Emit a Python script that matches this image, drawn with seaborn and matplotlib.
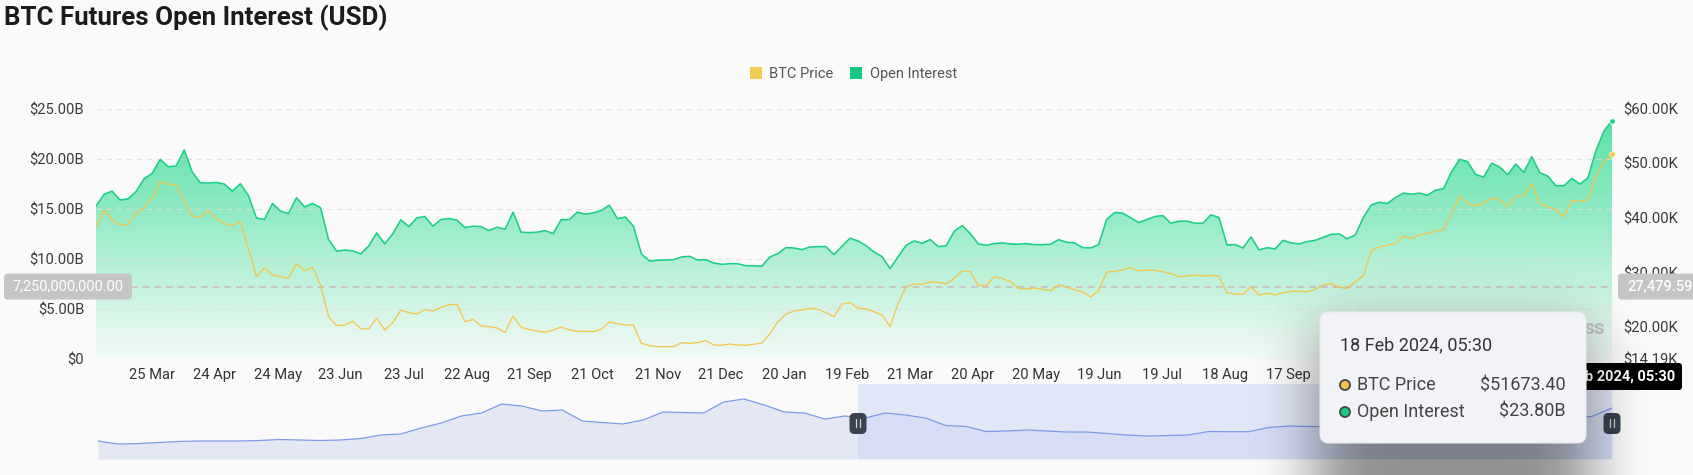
import numpy as np
import pandas as pd
import matplotlib
matplotlib.use("Agg")
import matplotlib.pyplot as plt
import matplotlib.dates as mdates
from matplotlib.patches import FancyBboxPatch, Circle, Patch
import seaborn as sns

# ---------------- data ----------------
START = pd.Timestamp("2022-02-26 12:00")
END = pd.Timestamp("2024-02-18 05:30")
NAV_START = pd.Timestamp("2020-03-01")

open_interest_busd = [
    15.27, 16.43, 16.77, 15.87, 16.0, 16.73, 18.0, 18.53, 19.93, 19.2,
    19.27, 20.87, 18.67, 17.6, 17.57, 17.63, 17.47, 16.77, 17.5, 16.33,
    14.1, 13.93, 15.53, 14.77, 14.53, 16.1, 15.2, 15.53, 15.1, 11.93,
    10.77, 10.9, 10.8, 10.5, 11.3, 12.6, 11.5, 12.5, 13.9, 13.23,
    14.1, 14.23, 13.27, 13.93, 14.03, 13.87, 13.13, 13.27, 13.23, 12.83,
    13.17, 12.97, 14.67, 12.67, 12.63, 12.67, 12.83, 12.53, 13.93, 13.93,
    14.67, 14.47, 14.6, 14.83, 15.37, 14.03, 14.17, 13.27, 10.5, 9.8,
    9.87, 9.9, 9.93, 10.2, 10.27, 9.9, 9.93, 9.6, 9.47, 9.53,
    9.53, 9.33, 9.33, 9.27, 10.2, 10.53, 11.13, 11.1, 10.93, 11.2,
    11.23, 11.23, 10.43, 11.27, 12.07, 11.8, 11.33, 10.7,
    10.23, 9.03, 10.23, 11.37, 11.8, 11.57, 11.93, 11.23, 11.33, 12.77,
    13.33, 12.53, 11.5, 11.37, 11.53, 11.6, 11.5, 11.47, 11.53, 11.43,
    11.43, 11.47, 11.93, 11.67, 11.6, 11.13, 11.1, 11.43, 13.93, 14.63,
    14.57, 14.1, 13.63, 13.93, 14.23, 14.33, 13.57, 13.77, 13.77, 13.57,
    13.57, 14.4, 14.13, 11.4, 11.43, 11.1, 12.2, 10.9, 11.13,
    11.0, 11.86, 11.6, 11.5, 11.73, 11.86, 12.16, 12.46, 12.5, 12.0,
    12.4, 14.13, 15.4, 15.66, 15.53, 16.13, 16.56, 16.46, 16.56, 16.36,
    16.86, 17.0, 18.7, 19.93, 19.7, 18.43, 18.16, 19.56, 19.16, 18.4,
    19.46, 18.63, 20.2, 18.6, 18.26, 17.3, 17.3, 18.03, 17.46, 18.1,
    20.8, 22.76, 23.80,
]

btc_price_kusd = [
    38.41, 41.46, 39.63, 38.72, 38.78, 40.85, 41.94, 43.65, 46.63, 46.20,
    46.02, 43.04, 40.36, 40.12, 41.34, 39.87, 39.02, 38.60, 39.33, 34.46,
    29.28, 30.87, 29.59, 29.28, 28.98, 31.66, 30.38, 30.99, 27.70, 21.98,
    20.34, 20.46, 21.13, 19.79, 19.73, 21.68, 19.55, 20.89, 23.20, 22.71,
    22.47, 23.26, 23.02, 23.68, 24.17, 24.23, 21.07, 21.49, 20.28, 20.15,
    19.91, 19.12, 22.10, 20.03, 19.61, 19.36, 19.12, 19.55, 20.09, 19.55,
    19.30, 19.30, 19.24, 19.67, 21.01, 20.70, 20.46, 20.46, 17.11, 16.69,
    16.50, 16.50, 16.50, 17.23, 17.11, 17.23, 17.60, 16.81, 16.75, 16.99,
    16.81, 16.75, 16.93, 17.17, 18.82, 21.01, 22.41, 23.02, 23.20, 23.50,
    23.32, 22.71, 21.98, 24.29, 24.54, 23.56, 23.38, 22.89,
    22.29, 20.15, 24.42, 27.46, 27.95, 27.88, 28.31, 28.25, 27.95, 28.98,
    30.32, 30.20, 27.64, 27.70, 29.28, 28.92, 28.37, 27.15, 27.03, 27.21,
    26.97, 26.73, 27.76, 27.40, 26.91, 26.48, 25.57, 26.73, 30.14, 30.26,
    30.50, 30.93, 30.32, 30.50, 30.44, 30.20, 29.83, 29.28, 29.41, 29.59,
    29.41, 29.53, 29.35, 26.36, 26.12, 26.06, 27.46, 25.94, 26.24,
    25.93, 26.36, 26.60, 26.66, 26.48, 26.97, 27.76, 28.00, 27.33, 27.15,
    28.37, 29.46, 34.09, 34.70, 35.06, 35.36, 36.70, 36.28, 36.89, 37.19,
    37.56, 37.92, 40.72, 44.01, 42.67, 42.18, 42.79, 43.64, 43.28, 42.06,
    43.89, 44.19, 46.32, 42.61, 42.00, 41.57, 40.23, 43.22, 43.03, 43.34,
    47.66, 50.28, 51.6734,
]

nav_btc_kusd = [
    8.6, 4.3, 5.0, 6.4, 7.9, 8.6, 8.6, 8.6, 9.3, 10.7,
    10.0, 9.3, 10.0, 12.1, 17.1, 18.6, 27.1, 34.3, 44.3, 48.6,
    61.4, 58.6, 51.4, 52.9, 37.1, 35.0, 32.9, 38.6, 50.0, 49.3,
    48.6, 64.3, 68.6, 60.0, 50.0, 48.6, 40.0, 44.3, 41.4, 48.6,
    45.7, 41.4, 30.7, 29.3, 22.1, 22.9, 24.3, 22.9, 21.4, 21.4,
    19.3, 17.1, 15.7, 16.4, 17.1, 22.1, 21.9, 21.9, 27.9, 30.0,
    29.3, 29.3, 28.6, 30.0, 30.7, 30.0, 30.0, 25.7, 26.4, 27.1,
    32.9, 37.1, 42.9, 42.9, 43.6, 55.7,
]

# visible x tick labels (later ones are hidden behind the tooltip)
x_tick_dates = ["2022-03-25", "2022-04-24", "2022-05-24", "2022-06-23", "2022-07-23",
                "2022-08-22", "2022-09-21", "2022-10-21", "2022-11-21", "2022-12-21",
                "2023-01-20", "2023-02-19", "2023-03-21", "2023-04-20", "2023-05-20",
                "2023-06-19", "2023-07-19", "2023-08-18", "2023-09-17"]
x_tick_labels = ["25 Mar", "24 Apr", "24 May", "23 Jun", "23 Jul", "22 Aug", "21 Sep",
                 "21 Oct", "21 Nov", "21 Dec", "20 Jan", "19 Feb", "21 Mar", "20 Apr",
                 "20 May", "19 Jun", "19 Jul", "18 Aug", "17 Sep"]
oi_ticks = [0, 5, 10, 15, 20, 25]
oi_tick_labels = ["$0", "$5.00B", "$10.00B", "$15.00B", "$20.00B", "$25.00B"]
btc_ticks = [14.19, 20, 30, 40, 50, 60]
btc_tick_labels = ["$14.19K", "$20.00K", "$30.00K", "$40.00K", "$50.00K", "$60.00K"]
series_names = ["BTC Price", "Open Interest"]
crosshair_oi_b = 7.25
crosshair_btc_usd = 27479.59
title = "BTC Futures Open Interest (USD)"
tooltip_date = "18 Feb 2024, 05:30"
axis_date_visible = "b 2024, 05:30"   # part of the x crosshair label not hidden by the tooltip
watermark_visible = "ss"             # visible tail of the watermark

# ---------------- style ----------------
sns.set_theme(style="white")
plt.rcParams["font.family"] = ["Roboto", "DejaVu Sans"]

BG = "#fafafa"
GREEN = "#1ccf89"
YEL = "#f4c54b"
W, H = 1693, 475
TICK_FS = 10.6

dates = pd.date_range(START, END, periods=len(open_interest_busd))
nav_dates = pd.date_range(NAV_START, END, periods=len(nav_btc_kusd))
df = pd.DataFrame({"date": dates, "oi": open_interest_busd, "btc": btc_price_kusd})
nav_df = pd.DataFrame({"date": nav_dates, "btc": nav_btc_kusd})

fig = plt.figure(figsize=(W / 100, H / 100), dpi=100, facecolor=BG)


def fx(x):
    return x / W


def fy(y):
    return 1 - y / H


# ---------------- main axes ----------------
ax = fig.add_axes([fx(96), fy(359.3), (1612 - 96) / W, (359.3 - 108.5) / H])
ax.set_facecolor(BG)
for s in ax.spines.values():
    s.set_visible(False)

x0n, x1n = mdates.date2num(START), mdates.date2num(END)
stops = np.array([0, 5, 10, 15, 25]) / 25
cols = np.array([[241, 250, 246], [212, 245, 230], [176, 240, 212],
                 [143, 234, 195], [84, 225, 163]]) / 255
yy = np.linspace(0, 1, 300)
grad = np.stack([np.interp(yy, stops, cols[:, i]) for i in range(3)], axis=-1)[:, None, :]
im = ax.imshow(grad, extent=[x0n, x1n, 0, 25], origin="lower", aspect="auto",
               zorder=1, interpolation="bilinear")
poly = ax.fill_between(dates, open_interest_busd, 0, facecolor="none", edgecolor="none", zorder=1)
im.set_clip_path(poly.get_paths()[0], transform=ax.transData)

for v in oi_ticks:
    ax.axhline(v, color="#dedede", lw=0.8, ls=(0, (5, 4)), alpha=0.8, zorder=2)
ax.axhline(crosshair_oi_b, color="#cbbfc0", lw=1.2, ls=(0, (4, 3)), zorder=2.5)
ax.axvline(END, color="#cfcfcf", lw=0.9, ls=(0, (4, 3)), zorder=2.5)

sns.lineplot(data=df, x="date", y="oi", ax=ax, color=GREEN, linewidth=1.15, zorder=3)
ax.scatter([dates[-1]], [open_interest_busd[-1]], s=16, color=GREEN, edgecolor="white",
           linewidth=0.6, zorder=6, clip_on=False)

ax2 = ax.twinx()
ax2.set_zorder(ax.get_zorder() + 1)
ax2.patch.set_visible(False)
for s in ax2.spines.values():
    s.set_visible(False)
sns.lineplot(data=df, x="date", y="btc", ax=ax2, color=YEL, linewidth=0.95)
ax2.scatter([dates[-1]], [btc_price_kusd[-1]], s=16, color=YEL, edgecolor="#fff6dc",
            linewidth=0.6, zorder=6, clip_on=False)

ax.set_xlim(START, END)
ax.set_ylim(0, 25)
ax2.set_ylim(14.19, 60)
ax.set_xlabel("")
ax.set_ylabel("")
ax2.set_ylabel("")
ax.grid(False)
ax2.grid(False)

ax.set_yticks(oi_ticks)
ax.set_yticklabels(oi_tick_labels)
ax.set_xticks(pd.to_datetime(x_tick_dates))
ax.set_xticklabels(x_tick_labels)
ax.tick_params(axis="y", length=0, pad=8.4, labelsize=TICK_FS, labelcolor="#3a3a3a")
ax.tick_params(axis="x", length=0, pad=6.0, labelsize=TICK_FS, labelcolor="#333333")
ax2.set_yticks(btc_ticks)
ax2.set_yticklabels(btc_tick_labels)
ax2.tick_params(axis="y", length=0, pad=8, labelsize=TICK_FS, labelcolor="#3a3a3a")

# ---------------- navigator ----------------
nav = fig.add_axes([fx(98), fy(459), 1514 / W, 75 / H])
nav.set_facecolor("none")
nav.fill_between(nav_dates, nav_btc_kusd, -17.1, color="#e4e7f4", lw=0, zorder=1)
nav.axvspan(START, END, color="#c6d1f4", alpha=0.45, lw=0, zorder=2)
sns.lineplot(data=nav_df, x="date", y="btc", ax=nav, color="#7c9be6", linewidth=0.9, zorder=3)
nav.set_xlim(NAV_START, END)
nav.set_ylim(-17.1, 90)
nav.axis("off")

# ---------------- title & legend ----------------
fig.text(fx(4), fy(25), title, fontsize=18.6, fontweight="bold", color="#1b1b1b",
         ha="left", va="baseline")
handles = [Patch(facecolor="#f2ca58", edgecolor="none"), Patch(facecolor="#17c884", edgecolor="none")]
fig.legend(handles, series_names, loc="center", bbox_to_anchor=(fx(853.5), fy(74)), ncol=2,
           frameon=False, fontsize=10.5, handlelength=0.82, handleheight=0.82,
           handletextpad=0.5, columnspacing=1.15, labelcolor="#555555")

# ---------------- overlay (crosshair labels, tooltip, navigator handles) ----------------
ov = fig.add_axes([0, 0, 1, 1], zorder=10)
ov.set_xlim(0, W)
ov.set_ylim(H, 0)
ov.axis("off")


def to_px(a, x, y):
    dx, dy = a.transData.transform((x, y))
    return dx, H - dy


def rbox(x0, y0, x1, y1, r, color, z, alpha=1.0, ec="none"):
    p = FancyBboxPatch((x0, y0), x1 - x0, y1 - y0, boxstyle=f"round,pad=0,rounding_size={r}",
                       facecolor=color, edgecolor=ec, alpha=alpha, zorder=z, lw=0.8, clip_on=False)
    ov.add_patch(p)


_, y_cross = to_px(ax, x0n, crosshair_oi_b)
x_end, _ = to_px(ax, x1n, 0)
x_sel, _ = to_px(nav, mdates.date2num(START), 0)

# watermark tail (rest is hidden by the tooltip)
ov.text(1605, 328, watermark_visible, ha="right", va="center", fontsize=15, fontweight="bold",
        color="#c4c4c4", zorder=1)

# crosshair labels
rbox(4, y_cross - 13, 132, y_cross + 13, 4, "#c5c5c5", 3)
ov.text(68, y_cross, f"{crosshair_oi_b * 1e9:,.2f}", ha="center", va="center",
        fontsize=10.5, color="white", zorder=3.5)
rbox(x_end + 6, y_cross - 13, W + 20, y_cross + 13, 4, "#c5c5c5", 3)
ov.text(x_end + 15, y_cross, f"{crosshair_btc_usd:,.2f}", ha="left", va="center",
        fontsize=10.5, color="white", fontweight="medium", zorder=3.5)

rbox(1560, 363, 1682, 390, 3, "#000000", 3)
ov.text(1675, 376.5, axis_date_visible, ha="right", va="center",
        fontsize=10.5, fontweight="bold", color="white", zorder=3.5)

# navigator handles
for hx in (x_sel, x_end):
    rbox(hx - 8.5, 413, hx + 8.5, 434, 5, "#3b4250", 3)
    for dxh in (-2, 2):
        ov.plot([hx + dxh, hx + dxh], [419, 427], color="#cfd3da", lw=0.9, zorder=3.5)

# tooltip soft shadow (blurred rounded rectangle)
TX0, TY0, TX1, TY1 = 1320, 312, 1586, 443
gx0, gx1, gy0, gy1 = 1100, W, 230, H
gxs = np.arange(gx0, gx1) + 0.5
gys = np.arange(gy0, gy1) + 0.5
GX, GY = np.meshgrid(gxs, gys)
OFF = 24
mask = ((GX > TX0 - 4) & (GX < TX1 + 4) & (GY > TY0 + OFF - 4) & (GY < TY1 + OFF + 30)).astype(float)
pad = 130
mask = np.pad(mask, pad, mode="edge")
sig = 30.0
kx = np.arange(-3 * int(sig), 3 * int(sig) + 1)
kern = np.exp(-kx ** 2 / (2 * sig ** 2))
kern /= kern.sum()
blur = np.apply_along_axis(lambda r: np.convolve(r, kern, mode="same"), 1, mask)
blur = np.apply_along_axis(lambda c: np.convolve(c, kern, mode="same"), 0, blur)
blur = blur[pad:-pad, pad:-pad]
rgba = np.zeros(blur.shape + (4,))
rgba[..., 3] = 0.42 * blur
ov.imshow(rgba, extent=[gx0, gx1, gy1, gy0], origin="upper", zorder=4, interpolation="bilinear",
          aspect="auto")
ov.set_xlim(0, W)
ov.set_ylim(H, 0)

rbox(TX0, TY0, TX1, TY1, 9, "#f1f3f7", 5, ec="#e7e9ee")
ov.text(1340, 345, tooltip_date, ha="left", va="center",
        fontsize=13, color="#333333", zorder=6)
rows = [(series_names[0], f"${btc_price_kusd[-1] * 1000:.2f}", YEL, 385),
        (series_names[1], f"${open_interest_busd[-1]:.2f}B", "#17c884", 412)]
for name, val, c, yrow in rows:
    ov.add_patch(Circle((1345, yrow), 5, facecolor=c, edgecolor="#454545", lw=1.3, zorder=6))
    ov.text(1357, yrow, name, ha="left", va="center", fontsize=13, color="#444444", zorder=6)
    ov.text(1566, yrow, val, ha="right", va="center", fontsize=13, color="#444444", zorder=6)

fig.savefig("out.png", dpi=100, facecolor=BG)
